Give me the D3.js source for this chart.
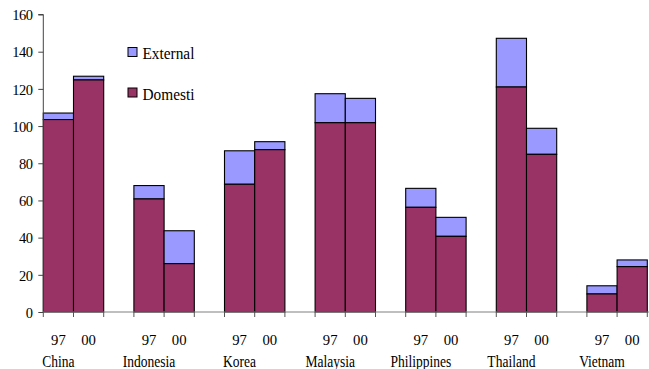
<!DOCTYPE html>
<html>
<head>
<meta charset="utf-8">
<script src="https://cdn.jsdelivr.net/npm/d3@7"></script>
<style>
  html, body { margin: 0; padding: 0; background: #fff; }
  svg { display: block; }
  svg text { font-family: "Liberation Serif", "Times New Roman", serif; fill: #000; }
</style>
</head>
<body>
<svg id="chart" width="649" height="369"></svg>
<script>
// Countries and survey years
const countries = ["China", "Indonesia", "Korea", "Malaysia", "Philippines", "Thailand", "Vietnam"];
const years = ["97", "00"];

// Domestic and external amounts, per country, for 97 then 00
const domestic = [
  [103.5, 124.8],
  [60.8, 26.0],
  [68.7, 87.3],
  [101.8, 101.8],
  [56.3, 40.7],
  [121.0, 84.8],
  [9.7, 24.4]
];
const external = [
  [3.5, 2.0],
  [7.2, 17.7],
  [18.0, 4.3],
  [15.6, 13.1],
  [10.2, 10.2],
  [26.2, 14.0],
  [4.4, 3.6]
];

const yTicks = [0, 20, 40, 60, 80, 100, 120, 140, 160];
const seriesNames = ["External", "Domesti"];
const colors = { External: "#9999ff", Domesti: "#993366" };

const svg = d3.select("#chart");

const plotLeft = 43.3, plotBottom = 312, plotTop = 14.5;
const groupW = 90.6;

const x0 = d3.scaleBand()
  .domain(countries)
  .range([plotLeft, plotLeft + groupW * countries.length])
  .paddingInner(0).paddingOuter(0);

// two bars fill the first two thirds of each group, the last third is a gap
const x1 = d3.scaleBand()
  .domain(years)
  .range([0, x0.bandwidth() * 2 / 3])
  .padding(0);

const y = d3.scaleLinear().domain([0, 160]).range([plotBottom, plotTop]);

// narrow label helper: text squeezed horizontally around its anchor point
function label(parent, x, yPos, str, size, sx, anchor) {
  const g = parent.append("g").attr("transform", `translate(${x},${yPos}) scale(${sx},1)`);
  g.append("text")
    .attr("text-anchor", anchor || "middle")
    .style("font-size", size + "px")
    .text(str);
  return g;
}

// flatten into stacked records
const rows = [];
countries.forEach((c, i) => {
  years.forEach((yr, j) => {
    rows.push({ country: c, year: yr, domestic: domestic[i][j], external: external[i][j] });
  });
});

const bars = svg.append("g");
rows.forEach(r => {
  const bx = x0(r.country) + x1(r.year);
  const bw = x1.bandwidth();
  // external sits on top of domestic
  bars.append("rect")
    .attr("x", bx).attr("width", bw)
    .attr("y", y(r.domestic + r.external))
    .attr("height", y(r.domestic) - y(r.domestic + r.external))
    .attr("fill", colors.External)
    .attr("stroke", "#000").attr("stroke-width", 1.1);
  bars.append("rect")
    .attr("x", bx).attr("width", bw)
    .attr("y", y(r.domestic))
    .attr("height", y(0) - y(r.domestic))
    .attr("fill", colors.Domesti)
    .attr("stroke", "#000").attr("stroke-width", 1.1);
});

// y axis
const yAxis = svg.append("g").attr("transform", `translate(${plotLeft},0)`)
  .call(d3.axisLeft(y).tickValues(yTicks).tickSize(5).tickPadding(6).tickFormat(d3.format("d")));
yAxis.attr("font-family", null);
yAxis.select(".domain").attr("stroke", "#444").attr("d", `M-5,${y(160)}H0V${plotBottom}`);
yAxis.selectAll(".tick line").attr("stroke", "#444");
yAxis.selectAll(".tick text")
  .style("font-size", "14.5px").style("letter-spacing", "-0.6px")
  .attr("dy", "0.36em");

// x axis: baseline with ticks at each bar edge
const xg = svg.append("g");
xg.append("line")
  .attr("x1", plotLeft).attr("x2", 649)
  .attr("y1", plotBottom).attr("y2", plotBottom)
  .attr("stroke", "#808080").attr("stroke-width", 1.2);

const edges = [];
countries.forEach(c => {
  edges.push(x0(c));
  years.forEach(yr => edges.push(x0(c) + x1(yr) + x1.bandwidth()));
});
xg.selectAll("line.tk").data(edges).enter().append("line")
  .attr("class", "tk")
  .attr("x1", d => d).attr("x2", d => d)
  .attr("y1", plotBottom).attr("y2", plotBottom + 5)
  .attr("stroke", "#555");

// year labels
rows.forEach(r => {
  label(xg, x0(r.country) + x1(r.year) + x1.bandwidth() / 2, 345, r.year, 15.5, 0.95);
});

// country labels under the first bar of each group
countries.forEach(c => {
  label(xg, x0(c) + x1(years[0]) + x1.bandwidth() / 2, 367, c, 16.5, 0.82);
});

// legend
const legend = svg.append("g");
seriesNames.forEach((name, i) => {
  const ly = 47.5 + i * 40.5;
  legend.append("rect")
    .attr("x", 128).attr("y", ly).attr("width", 9).attr("height", 9)
    .attr("fill", colors[name]).attr("stroke", "#000").attr("stroke-width", 1);
  label(legend, 142.5, ly + 11.5, name, 16.5, 0.93, "start");
});
</script>
</body>
</html>
